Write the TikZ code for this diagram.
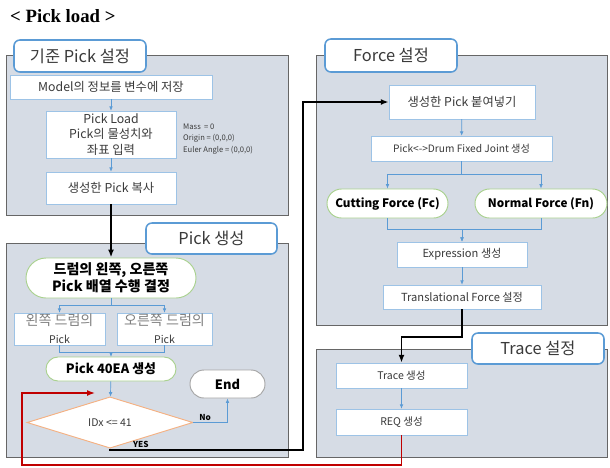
\documentclass[tikz,border=0pt]{standalone}
\usepackage{fontspec}
\setmainfont{Noto Sans CJK KR}
\newfontfamily\titlefont{Liberation Serif}
\usepackage{tikz}
\usetikzlibrary{arrows.meta,positioning,shapes.geometric,shapes.misc,shadows}
\definecolor{panelbg}{HTML}{D6DCE5}
\definecolor{tabblue}{HTML}{5B9BD5}
\definecolor{boxblue}{HTML}{9DC3E6}
\definecolor{flowblue}{HTML}{5B9BD5}
\definecolor{ovalgreen}{HTML}{A9D18E}
\definecolor{diaorange}{HTML}{F4B183}
\definecolor{endgray}{HTML}{A6A6A6}
\definecolor{backred}{HTML}{C00000}
\definecolor{textgray}{HTML}{3A3A3A}

\begin{document}
\begin{tikzpicture}[
x=0.03cm, y=-0.03cm,
sz/.style 2 args={minimum width=#1*0.03cm, minimum height=#2*0.03cm},
panel/.style={draw=gray!80!black, fill=panelbg, inner sep=0pt, drop shadow={opacity=0.45, shadow xshift=1.2pt, shadow yshift=-1.2pt}},
tab/.style={draw=tabblue, line width=1.3pt, fill=white, rounded corners=5pt, inner sep=0pt, text=textgray, font=\fontsize{14}{16}\selectfont},
box/.style={draw=boxblue, fill=white, align=center, inner sep=0pt, text=textgray, font=\fontsize{10.5}{13}\selectfont},
sidebox/.style={box, text=gray, font=\fontsize{12}{13}\selectfont},
oval/.style={rounded rectangle, draw=ovalgreen, line width=0.8pt, fill=white, align=center, inner sep=0pt, font=\bfseries\fontsize{11}{14}\selectfont},
note/.style={align=left, inner sep=0pt, text=textgray, font=\fontsize{6.5}{10}\selectfont},
yesno/.style={inner sep=1pt, font=\bfseries\fontsize{7}{8}\selectfont},
flow/.style={-{Latex[length=1.3mm,width=1.1mm]}, draw=flowblue, line width=0.6pt},
link/.style={-{Latex[length=2.4mm]}, line width=1.6pt},
back/.style={-{Latex[length=2.4mm]}, draw=backred, line width=1.2pt}
]
\useasboundingbox (0,0) rectangle (610,467);
\node[anchor=base west, inner sep=0pt, font=\titlefont\bfseries\fontsize{16}{18}\selectfont] (title) at (10,22) {< Pick load >};

\node[panel, sz={282}{160}] (p1) at (147,135) {};
\node[tab, sz={132}{32}] (t1) at (80,56) {기준 Pick 설정};
\node[box, sz={202}{24}] (model) at (111,87) {Model의 정보를 변수에 저장};
\node[box, sz={130}{47}] (load) at (111,134.5) {Pick Load\\Pick의 물성치와\\좌표 입력};
\node[note, anchor=west] (mass) at (183,139) {Mass \ = 0\\Origin = (0,0,0)\\Euler Angle = (0,0,0)};
\node[box, sz={130}{32}] (copy) at (111,188) {생성한 Pick 복사};

\node[panel, sz={282}{214}] (p2) at (147,350) {};
\node[tab, sz={131}{31}] (t2) at (211.5,238.5) {Pick 생성};
\node[oval, sz={170}{40}, font=\bfseries\fontsize{12}{14.5}\selectfont] (split) at (111,278) {드럼의 왼쪽, 오른쪽\\Pick 배열 수행 결정};
\node[sidebox, sz={91}{32}] (left) at (59.5,329) {\raisebox{2pt}{왼쪽 드럼의}\\{\color{textgray}\fontsize{9}{10}\selectfont Pick}};
\node[sidebox, sz={95}{32}] (right) at (164.5,329) {\raisebox{2pt}{오른쪽 드럼의}\\{\color{textgray}\fontsize{9}{10}\selectfont Pick}};
\node[oval, sz={130}{24}] (gen) at (111,369) {Pick 40EA 생성};
\node[oval, draw=endgray, sz={75}{28}] (end) at (227.5,384) {End};
\node[diamond, draw=diaorange, fill=white, line width=0.8pt, sz={166}{41}, inner sep=0pt, text=textgray, font=\fontsize{9}{11}\selectfont] (idx) at (110,422.5) {IDx <= 41};

\node[panel, sz={291}{270}] (p3) at (461.5,190) {};
\node[tab, sz={132}{33}] (t3) at (391,55.5) {Force 설정};
\node[box, sz={146}{34}] (paste) at (462,102) {생성한 Pick 붙여넣기};
\node[box, sz={181}{25}, font=\fontsize{8.7}{11}\selectfont] (joint) at (461.5,148.5) {Pick<->Drum Fixed Joint 생성};
\node[oval, sz={121}{29}, font=\bfseries\fontsize{10}{12}\selectfont] (cut) at (387.5,203.5) {Cutting Force (Fc)};
\node[oval, sz={132}{29}, font=\bfseries\fontsize{10}{12}\selectfont] (norm) at (541,203.5) {Normal Force (Fn)};
\node[box, sz={130}{25}, font=\fontsize{9.5}{11}\selectfont] (expr) at (462,254.5) {Expression 생성};
\node[box, sz={158}{24}, font=\fontsize{9.5}{11}\selectfont] (trans) at (462,297) {Translational Force 설정};

\node[panel, sz={291}{108}] (p4) at (461.5,403) {};
\node[tab, sz={132}{31}] (t4) at (538,348.5) {Trace 설정};
\node[box, sz={131}{25}, font=\fontsize{9}{11}\selectfont] (trace) at (401.5,375.5) {Trace 생성};
\node[box, sz={131}{26}, font=\fontsize{9}{11}\selectfont] (req) at (401.5,422) {REQ 생성};

\coordinate (redin) at (95,393);

\draw[flow] (model) -- (load);
\draw[flow] (load) -- (copy);
\draw[link] (copy) -- (split);
\draw[flow] (split.south) -- ++(0,7) -| (left.north);
\draw[flow] (split.south) -- ++(0,7) -| (right.north);
\draw[flow] (left.south) -- ++(0,7) -| (gen.north);
\draw[flow] (right.south) -- ++(0,7) -| (gen.north);
\draw[flow] (gen) -- (idx);
\draw[flow] (idx.east) -| node[pos=0.17, above, yesno] {No} (end.south);
\draw[link] (idx.south) |- node[pos=0.58, above, yesno] {YES} (303,450) |- (paste.west);

\draw[flow] (paste) -- (joint);
\draw[flow] (joint.south) -- ++(0,13) -| (cut.north);
\draw[flow] (joint.south) -- ++(0,13) -| (norm.north);
\draw[flow] (cut.south) -- ++(0,11) -| (expr.north);
\draw[flow] (norm.south) -- ++(0,11) -| (expr.north);
\draw[flow] (expr) -- (trans);
\draw[link] (trans.south) -- ++(0,28) -| (trace.north);
\draw[flow] (trace) -- (req);
\draw[back] (req.south) |- (22,465) |- (redin);
\end{tikzpicture}
\end{document}
